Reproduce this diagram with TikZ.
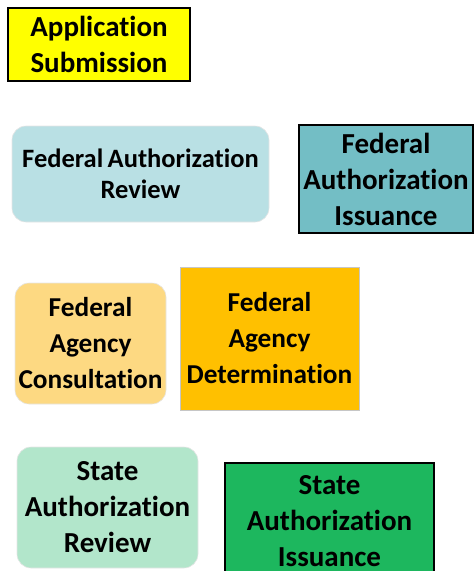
\documentclass[tikz,border=0pt]{standalone}
\usepackage{fontspec}
\setmainfont{Carlito}[RawFeature={-liga;-clig;-calt;-dlig}]
\definecolor{appYellow}{RGB}{255,255,0}
\definecolor{fedReviewBlue}{RGB}{185,224,228}
\definecolor{fedIssueTeal}{RGB}{115,190,197}
\definecolor{consultOrange}{RGB}{253,217,130}
\definecolor{determOrange}{RGB}{255,192,0}
\definecolor{stateReviewGreen}{RGB}{178,230,203}
\definecolor{stateIssueGreen}{RGB}{29,183,94}

\begin{document}
\begin{tikzpicture}
[x=1pt,y=-1pt,
  squareDecorate/.style={draw=black,line width=1.5pt,align=center,inner sep=0pt,
    font=\bfseries\fontsize{29}{36}\selectfont},
  flatDecorate/.style={draw=gray!45,line width=0.6pt,align=center,inner sep=0pt,
    font=\bfseries\fontsize{27.3}{36}\selectfont},
  roundDecorate/.style={draw=gray!20,line width=0.6pt,rounded corners=14pt,align=center,
    inner sep=0pt,font=\bfseries\fontsize{29}{36}\selectfont}]
\useasboundingbox (0,0) rectangle (474,571);
%% top row
\node (appSub) at (99,44.5) [squareDecorate,fill=appYellow,
  minimum width=182pt,minimum height=73pt] {Application\\Submission};
%% federal authorization
\node (fedAuthReview) at (140.5,174) [roundDecorate,fill=fedReviewBlue,
  minimum width=257pt,minimum height=96pt,
  font=\bfseries\fontsize{26.5}{31}\selectfont] {Federal\,Authorization\\Review};
\node (fedAuthIssue) at (386,179) [squareDecorate,fill=fedIssueTeal,
  minimum width=174pt,minimum height=108pt] {Federal\\Authorization\\Issuance};
%% federal agency
\node (fedAgencyConsult) at (90.5,343.5) [roundDecorate,fill=consultOrange,
  minimum width=151pt,minimum height=121pt,
  font=\bfseries\fontsize{27.3}{36}\selectfont] {Federal\\Agency\\Consultation};
\node (fedAgencyDet) at (269.5,338.5) [flatDecorate,fill=determOrange,
  minimum width=179pt,minimum height=143pt] {Federal\\Agency\\Determination};
%% state authorization
\node (stateAuthReview) at (107.5,507.5) [roundDecorate,fill=stateReviewGreen,
  minimum width=181pt,minimum height=121pt] {State\\Authorization\\Review};
\node (stateAuthIssue) at (329.5,521) [squareDecorate,fill=stateIssueGreen,
  minimum width=209pt,minimum height=116pt] {State\\Authorization\\Issuance};
\end{tikzpicture}
\end{document}
